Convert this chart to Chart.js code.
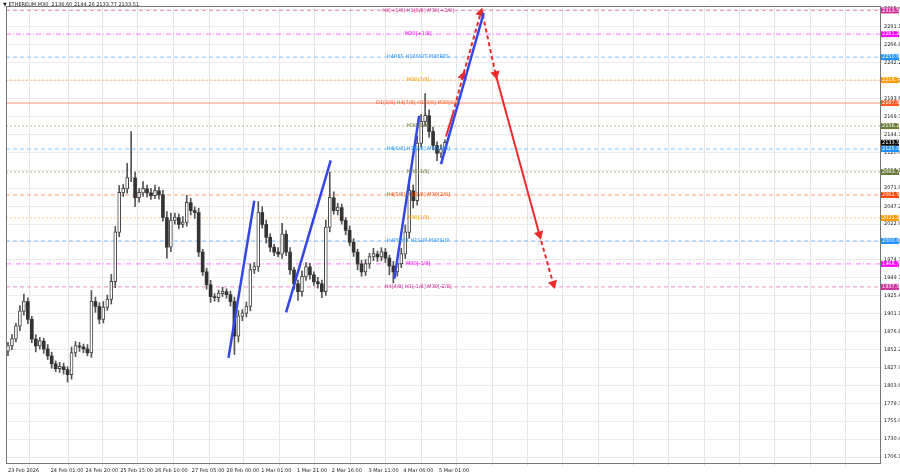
<!DOCTYPE html>
<html>
<head>
<meta charset="utf-8">
<script src="https://cdn.jsdelivr.net/npm/chart.js@4/dist/chart.umd.min.js"></script>
<style>
  html, body { margin: 0; padding: 0; background: #fff; }
  #wrap { width: 900px; height: 474px; position: relative; }
</style>
</head>
<body>
<div id="wrap"><canvas id="c" width="900" height="474"></canvas></div>
<script>
// ETHEREUM,M30 - candles (one slot per candle)
const closes = [1857.1,1866.5,1884,1904.2,1917.6,1893.4,1866.5,1857.1,1863.8,1853.1,
  1843.7,1832.9,1826.2,1828.9,1824.9,1818.1,1847.7,1857.1,1855.8,1853.1,
  1847.7,1917.6,1910.9,1893.4,1909.5,1920.3,1944.5,2011.7,2065.4,2070.8,
  2085.6,2085.6,2058.7,2065.4,2070.8,2065.4,2061.4,2068.1,2062.8,2031.8,
  1991.5,2027.8,2031.8,2022.4,2025.1,2052,2041.3,2038.6,1984.8,1957.9,
  1940.4,1924.3,1923,1928.4,1931,1927,1917.6,1870.6,1897.4,1901.5,
  1910.9,1960.6,1964.6,2038.6,2022.4,2005,1991.5,1984.8,1982.1,2009,
  1984.8,1960.6,1941.8,1931,1951.2,1964.6,1953.9,1944.5,1941.8,1931,
  2018.4,2058.7,2041.3,2045.3,2027.8,2014.4,1998.2,1984.8,1968.7,1957.9,
  1968.7,1978.1,1982.1,1978.1,1984.8,1976.7,1966,1957.9,1968.7,1982.1,
  2011.7,2068.1,2054.7,2132.6,2162.2,2170.3,2148.8,2129.9,2119.2,2124.6,2133.5];
const firstOpen = 1850;
const upWick = [5,6,4,8,10,5,4,6,5,4, 6,5,4,6,5,4,8,6,5,4, 6,15,6,5,8,6,10,8,10,6,
  20,63,8,6,10,5,6,8,5,6, 8,10,6,5,8,10,6,5,6,4, 5,6,4,5,6,4,5,6,8,5,
  6,8,6,15,8,6,5,4,6,15, 5,6,4,5,8,6,5,4,6,5, 10,35,8,6,5,4,6,5,4,5,
  6,5,8,4,6,5,4,6,5,8, 10,15,8,10,10,30,8,6,5,6,4];
const downWick = [6,5,4,6,5,6,5,8,4,6, 5,6,4,5,6,10,6,5,6,5, 4,6,8,6,5,4,6,8,6,5,
  6,5,12,6,5,6,5,4,6,5, 15,6,5,6,4,5,6,8,6,5, 6,8,5,6,4,5,6,25,8,6,
  5,6,5,6,5,8,6,5,4,6, 5,6,8,12,6,5,6,5,6,8, 5,6,5,6,5,6,5,6,8,6,
  5,6,5,6,5,6,12,15,6,5, 6,8,10,6,5,6,8,6,10,6,5];

// horizontal levels
const levelValues = [2313.50,2281.25,2250.00,2218.75,2187.50,2156.25,2125.00,2093.75,2062.50,2031.25,2000.00,1968.75,1937.50];
const levelNames = ['H4[+1/8] H1[8/8] M30[+2/8]','M30[+1/8]','H4RES H1PIVOT M30RES','M30[7/8]',
  'D1[3/8] H4[7/8] H1[3/8] M30[6/8]','M30[5/8]','H4[6/8] H1[2/8] M30[4/8]','M30[3/8]',
  'H4[5/8] H1[1/8] M30[2/8]','M30[1/8]','H4PIVOT H1SUP M30SUP','M30[-1/8]','H4[4/8] H1[-1/8] M30[-2/8]'];
const levelColors = ['#cc3399','#ff00ff','#1e90ff','#ff9900','#ff5a28','#6b7d3a','#1e90ff','#6b7d3a',
  '#ff4500','#ff9900','#1e90ff','#ff00ff','#cc3399'];
const levelDash = [[4,3],[5,2,1,2],[4,3],[2,2],[],[2,2],[4,3],[2,2],[4,3],[2,2],[4,3],[5,2,1,2],[4,3]];
const lastPrice = 2133.51;

// trend sketch lines: [slot, price] points
const blueLines = [
  [[55.5,1841.0],[62,2054.7]],
  [[70,1902.8],[81.25,2109.6]],
  [[97.25,1948.4],[103.5,2170.3]],
  [[109,2104.4],[119.75,2310.0]]
];
const redLines = [
  {pts:[[110.25,2142],[112,2173]], dash:[], rot:16, heads:[0,0]},
  {pts:[[112,2173],[114.5,2224],[119,2310]], dash:[4,3], rot:16, heads:[0,1,1]},
  {pts:[[119.5,2307.4],[122.75,2226.7]], dash:[4,3], rot:168, heads:[0,1]},
  {pts:[[122.75,2226.7],[133.75,2009]], dash:[], rot:165, heads:[0,1]},
  {pts:[[133.75,2009],[137.25,1941.8]], dash:[4,3], rot:163, heads:[0,1]}
];

const yTicks = [2315.40,2291.10,2266.80,2242.20,2217.90,2193.60,2169.30,2144.70,2120.40,2096.10,2071.80,2047.20,
  2022.90,1998.60,1974.30,1949.70,1925.40,1901.10,1876.80,1852.20,1827.90,1803.60,1779.30,1755.00,1730.40,1706.10];
const timeLabels = ['23 Feb 2026','24 Feb 01:00','24 Feb 20:00','25 Feb 15:00','26 Feb 10:00','27 Feb 05:00',
  '28 Feb 00:00','1 Mar 01:00','1 Mar 21:00','2 Mar 16:00','3 Mar 11:00','4 Mar 06:00','5 Mar 01:00'];
const timeSlots = [0,10.75,19.5,28.25,37,46.25,55,63.75,72.75,81.5,90.75,99.5,108.5];

const FONT = 'DejaVu Sans';
const SLOTS = 220;

const wicks = [], bodiesUp = [], bodiesDown = [];
closes.forEach((c, i) => {
  const o = i === 0 ? firstOpen : closes[i - 1];
  const hi = Math.max(o, c) + upWick[i], lo = Math.min(o, c) - downWick[i];
  wicks.push({x: i, y: [lo, hi]});
  if (c >= o) bodiesUp.push({x: i, y: [o, c + 0.6]});
  else bodiesDown.push({x: i, y: [c, o]});
});

const datasets = [];
levelValues.forEach((v, i) => {
  datasets.push({
    type: 'line', data: [{x: -0.5, y: v}, {x: SLOTS - 0.5, y: v}],
    borderColor: levelColors[i] + (i === 4 ? '55' : '88'), borderWidth: i === 4 ? 2 : 1,
    borderDash: levelDash[i], pointRadius: 0, order: 5
  });
});
datasets.push({type: 'bar', data: wicks, backgroundColor: '#555', barThickness: 1, grouped: false, order: 3});
datasets.push({type: 'bar', data: bodiesDown, backgroundColor: '#333', barThickness: 3, grouped: false, order: 2});
datasets.push({type: 'bar', data: bodiesUp, backgroundColor: '#fff', borderColor: '#444', borderWidth: 1,
  borderSkipped: false, barThickness: 3, grouped: false, order: 2});
blueLines.forEach(l => datasets.push({
  type: 'line', data: l.map(p => ({x: p[0], y: p[1]})), borderColor: '#3347e8', borderWidth: 2.5,
  pointRadius: 0, order: 1
}));
redLines.forEach(l => datasets.push({
  type: 'line', data: l.pts.map(p => ({x: p[0], y: p[1]})), borderColor: '#ee2a2a', borderWidth: 2,
  borderDash: l.dash, pointStyle: 'triangle', pointRotation: l.rot,
  pointRadius: l.heads.map(h => h ? 3.5 : 0),
  pointBackgroundColor: '#ee2a2a', pointBorderColor: '#ee2a2a', order: 1
}));

const overlay = {
  id: 'overlay',
  afterDatasetsDraw(chart) {
    const ctx = chart.ctx, y = chart.scales.y, x = chart.scales.x, a = chart.chartArea;
    ctx.save();
    ctx.font = '5px ' + FONT;
    ctx.textAlign = 'center'; ctx.textBaseline = 'middle';
    levelValues.forEach((v, i) => {
      ctx.fillStyle = levelColors[i];
      ctx.fillText(levelNames[i], x.getPixelForValue(103.25), y.getPixelForValue(v));
    });
    ctx.fillStyle = '#222'; ctx.textAlign = 'left';
    ctx.fillText('\u25BC ETHEREUM,M30  2136.60 2144.26 2133.77 2133.51', 3, 5);
    // right-axis price boxes
    const box = (v, col) => {
      const py = y.getPixelForValue(v);
      ctx.fillStyle = col; ctx.fillRect(a.right + 1, py - 3, 18, 6);
      ctx.fillStyle = '#fff'; ctx.textAlign = 'left';
      ctx.fillText(v.toFixed(2), a.right + 2, py);
    };
    levelValues.forEach((v, i) => box(v, levelColors[i]));
    box(lastPrice, '#000');
    ctx.strokeStyle = '#777'; ctx.lineWidth = 1;
    ctx.strokeRect(a.left + 0.5, a.top + 0.5, a.right - a.left, a.bottom - a.top);
    ctx.restore();
  }
};

new Chart(document.getElementById('c'), {
  type: 'bar',
  data: {datasets},
  options: {
    responsive: false, animation: false,
    layout: {padding: {top: 1, left: 0, right: 0, bottom: 0}},
    plugins: {legend: {display: false}, tooltip: {enabled: false}},
    scales: {
      x: {
        type: 'linear', min: -0.5, max: SLOTS - 0.5, offset: false,
        afterBuildTicks: s => {
          const t = timeSlots.map(v => ({value: v}));
          for (let k = 1; k <= 12; k++) t.push({value: 108.5 + 8.9 * k});
          s.ticks = t;
        },
        afterFit: s => { s.height = 11; },
        ticks: {
          autoSkip: false, maxRotation: 0, align: 'start', padding: 2,
          font: {family: FONT, size: 5}, color: '#222',
          callback: (v, i) => timeLabels[i] || ''
        },
        grid: {color: '#e6e6e6', drawTicks: true, tickLength: 3},
        border: {display: false}
      },
      y: {
        position: 'right', min: 1698, max: 2319.5,
        afterBuildTicks: s => { s.ticks = yTicks.map(v => ({value: v})); },
        afterFit: s => { s.width = 20; },
        ticks: {font: {family: FONT, size: 5}, color: '#222', padding: 2,
          callback: v => v.toFixed(2)},
        grid: {color: '#ececec', tickLength: 2},
        border: {display: false}
      }
    }
  },
  plugins: [overlay]
});
</script>
</body>
</html>
